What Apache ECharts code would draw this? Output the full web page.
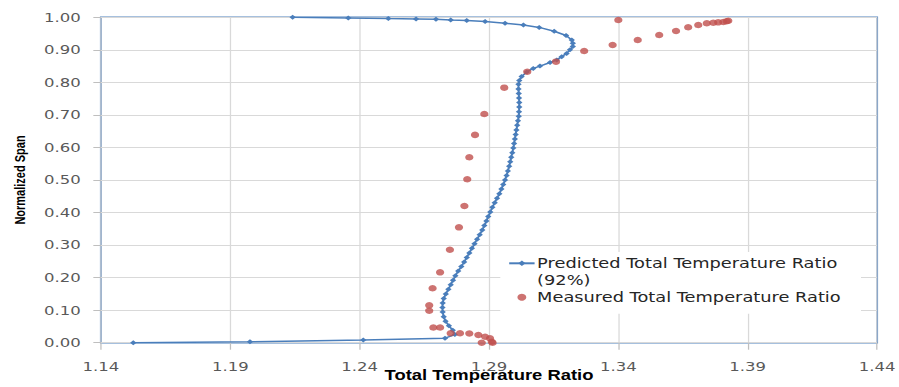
<!DOCTYPE html>
<html>
<head>
<meta charset="utf-8">
<title>Total Temperature Ratio</title>
<script src="https://cdn.jsdelivr.net/npm/echarts@6.0.0/dist/echarts.min.js"></script>
<style>
  html, body { margin: 0; padding: 0; background: #fff; overflow: hidden; }
  /* source picture is stretched sideways: draw narrower, then widen */
  #chart { width: 708px; height: 387px; transform: scaleX(1.2698); transform-origin: 0 0; }
</style>
</head>
<body>
<div id="chart"></div>
<script>
const PRED_NAME = "Predicted Total Temperature Ratio";
const MEAS_NAME = "Measured Total Temperature Ratio";

// predicted profile (hub -> tip)
const predSpan = [0.000, 0.003, 0.008, 0.014, 0.025, 0.038, 0.052, 0.066, 0.080, 0.094,
  0.108, 0.122, 0.136, 0.150, 0.164, 0.178, 0.192, 0.206, 0.220, 0.234,
  0.248, 0.262, 0.276, 0.290, 0.304, 0.318, 0.332, 0.346, 0.360, 0.374,
  0.388, 0.402, 0.416, 0.430, 0.444, 0.458, 0.472, 0.486, 0.500, 0.514,
  0.528, 0.542, 0.556, 0.570, 0.584, 0.598, 0.612, 0.626, 0.640, 0.654,
  0.668, 0.682, 0.696, 0.710, 0.724, 0.738, 0.752, 0.766, 0.780, 0.794,
  0.806, 0.818, 0.832, 0.843, 0.850, 0.861, 0.869, 0.879, 0.889, 0.900,
  0.910, 0.920, 0.930, 0.944, 0.957, 0.969, 0.976, 0.982, 0.987, 0.990,
  0.992, 0.994, 0.995, 0.996, 0.998, 1.000];
const predRatio = [1.1525, 1.1976, 1.2414, 1.2730, 1.2768, 1.2760, 1.2745, 1.2732, 1.2725, 1.2721,
  1.2720, 1.2721, 1.2725, 1.2733, 1.2743, 1.2752, 1.2761, 1.2770, 1.2781, 1.2793,
  1.2804, 1.2814, 1.2824, 1.2834, 1.2844, 1.2854, 1.2864, 1.2874, 1.2882, 1.2890,
  1.2897, 1.2905, 1.2913, 1.2922, 1.2931, 1.2940, 1.2948, 1.2955, 1.2962, 1.2968,
  1.2973, 1.2978, 1.2982, 1.2986, 1.2990, 1.2994, 1.2997, 1.3000, 1.3003, 1.3006,
  1.3009, 1.3012, 1.3015, 1.3016, 1.3017, 1.3017, 1.3016, 1.3015, 1.3014, 1.3014,
  1.3017, 1.3026, 1.3046, 1.3071, 1.3097, 1.3136, 1.3162, 1.3181, 1.3200, 1.3213,
  1.3224, 1.3224, 1.3220, 1.3198, 1.3152, 1.3094, 1.3033, 1.2962, 1.2885, 1.2814,
  1.2752, 1.2695, 1.2618, 1.2511, 1.2356, 1.2141];

// measured points
const measRatio = [1.2872, 1.2914, 1.2911, 1.2904, 1.2885, 1.2859, 1.2824, 1.2788, 1.2752, 1.2711,
  1.2685, 1.2669, 1.2669, 1.2682, 1.2711, 1.2749, 1.2784, 1.2805, 1.2816, 1.2824,
  1.2846, 1.2882, 1.2959, 1.3048, 1.3159, 1.3268, 1.3378, 1.3475, 1.3558, 1.3623,
  1.3670, 1.3709, 1.3742, 1.3767, 1.3786, 1.3806, 1.3819, 1.3825, 1.3400];
const measSpan = [0.000, 0.000, 0.003, 0.0135, 0.0184, 0.0237, 0.0283, 0.0289, 0.0289, 0.0467,
  0.0467, 0.0983, 0.1149, 0.1672, 0.2163, 0.2858, 0.3546, 0.4201, 0.5022, 0.5698,
  0.6386, 0.7028, 0.7837, 0.8328, 0.8636, 0.8964, 0.9149, 0.9302, 0.9456, 0.9579,
  0.9693, 0.9763, 0.9816, 0.9834, 0.9846, 0.9856, 0.9877, 0.9895, 0.9917];

const BLUE = "#4a7ebb";
const RED = "#c0504d";

const chart = echarts.init(document.getElementById("chart"), null, { renderer: "svg" });

const option = {
  animation: false,
  color: [BLUE, RED],
  grid: {
    left: 79.5,
    right: 17.3,
    top: 17.3,
    bottom: 44.3,
    outerBoundsMode: "none",
    show: true,
    borderColor: "#4f81bd",
    borderWidth: 1.6
  },
  legend: {
    orient: "vertical",
    left: 394,
    top: 252,
    padding: [-14.2, 16, 8, 6],
    backgroundColor: "#fff",
    itemWidth: 20,
    itemHeight: 7,
    itemGap: 0,
    textStyle: {
      fontFamily: "DejaVu Sans",
      fontSize: 14,
      lineHeight: 17,
      color: "#262626",
      padding: [0, 0, 0, -3]
    },
    // first entry wraps onto a second line, symbol stays on the first one
    formatter: name => (name === PRED_NAME ? "\n" + name + "\n(92%)" : name),
    data: [PRED_NAME, MEAS_NAME]
  },
  xAxis: {
    type: "value",
    min: 1.14,
    max: 1.44,
    interval: 0.05,
    name: "Total Temperature Ratio",
    nameLocation: "middle",
    nameGap: 25,
    nameMoveOverlap: false,
    nameTextStyle: {
      fontFamily: "Liberation Sans",
      fontWeight: "bold",
      fontSize: 14.5,
      color: "#000"
    },
    axisLine: { show: false },
    axisTick: { show: true, length: 7, lineStyle: { color: "#bfbfbf" } },
    axisLabel: {
      margin: 17,
      fontFamily: "DejaVu Sans",
      fontSize: 13,
      color: "#595959",
      formatter: v => v.toFixed(2)
    },
    splitLine: { show: true, lineStyle: { color: "#d9d9d9", width: 1 } }
  },
  yAxis: {
    type: "value",
    min: 0,
    max: 1,
    interval: 0.1,
    name: "Normalized Span",
    nameLocation: "middle",
    nameGap: 58,
    nameMoveOverlap: false,
    nameTextStyle: {
      fontFamily: "Liberation Sans",
      fontWeight: "bold",
      fontSize: 11,
      color: "#000"
    },
    axisLine: { show: false },
    axisTick: { show: true, length: 6, lineStyle: { color: "#bfbfbf" } },
    axisLabel: {
      margin: 16,
      fontFamily: "DejaVu Sans",
      fontSize: 13,
      color: "#595959",
      formatter: v => v.toFixed(2)
    },
    splitLine: { show: true, lineStyle: { color: "#d9d9d9", width: 1 } }
  },
  series: [
    {
      name: PRED_NAME,
      type: "line",
      data: predSpan.map((s, i) => [predRatio[i], s]),
      symbol: "diamond",
      symbolSize: 5,
      lineStyle: { color: BLUE, width: 1.5 },
      itemStyle: { color: BLUE },
      z: 2
    },
    {
      name: MEAS_NAME,
      type: "scatter",
      data: measSpan.map((s, i) => [measRatio[i], s]),
      symbol: "circle",
      symbolSize: 6.5,
      itemStyle: { color: RED },
      z: 3
    }
  ]
};

chart.setOption(option);
</script>
</body>
</html>
